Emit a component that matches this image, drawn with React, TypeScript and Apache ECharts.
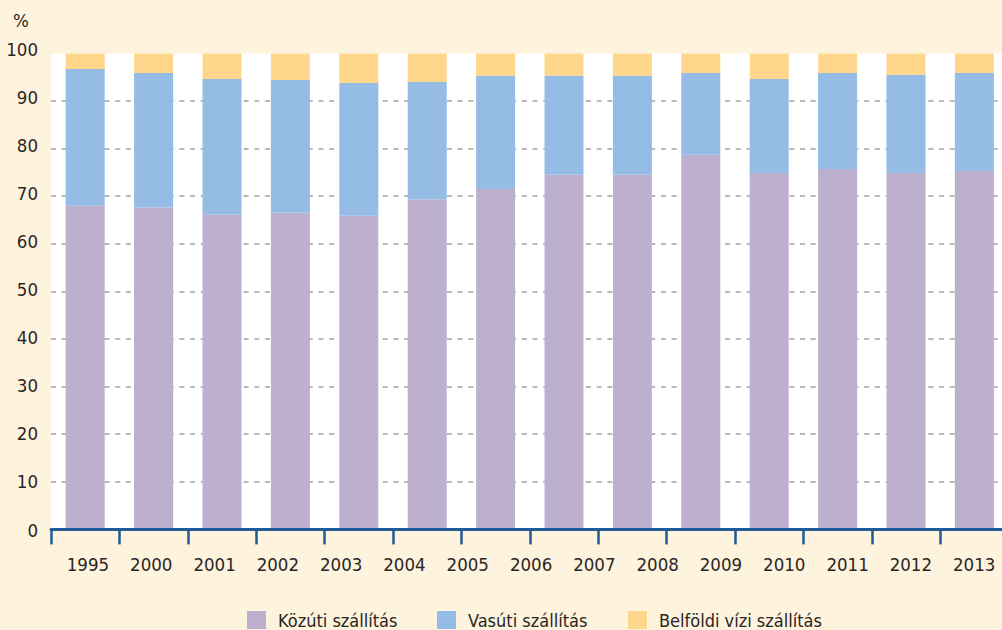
import React, { useEffect, useRef } from "react";
import * as echarts from "echarts";

const years = ["1995", "2000", "2001", "2002", "2003", "2004", "2005", "2006", "2007", "2008", "2009", "2010", "2011", "2012", "2013"];
// shares in %, the last year's bar is cut off in the reference image
const roadShare = [68.0, 67.6, 66.1, 66.5, 65.9, 69.3, 71.5, 74.5, 74.5, 78.7, 74.9, 75.7, 74.9, 75.3, null];
const railShare = [28.7, 28.3, 28.5, 27.9, 27.9, 24.7, 23.8, 20.8, 20.8, 17.2, 19.7, 20.2, 20.6, 20.6, null];
const waterShare = [3.3, 4.1, 5.4, 5.6, 6.2, 6.0, 4.7, 4.7, 4.7, 4.1, 5.4, 4.1, 4.5, 4.1, null];
const seriesNames = ["Közúti szállítás", "Vasúti szállítás", "Belföldi vízi szállítás"];
const seriesColors = ["#BDAFCE", "#94BCE4", "#FED78D"];
const yMin = 0;
const yMax = 100;
const yStep = 10;

const FONT = "'DejaVu Sans Condensed', 'Liberation Sans', sans-serif";
const TEXT = "#2a2627";
const AXIS = "#1F5B99";

export default function App() {
  const ref = useRef<HTMLDivElement>(null);
  useEffect(() => {
    if (!ref.current) return;
    const chart = echarts.init(ref.current, null, { renderer: "svg" });
    const data = [roadShare, railShare, waterShare];
    chart.setOption({
      animation: false,
      backgroundColor: "#FEF3DC",
      textStyle: { fontFamily: FONT },
      graphic: [
        {
          type: "text",
          left: 13,
          top: 11,
          style: { text: "%", fontSize: 18.5, fontFamily: FONT, fill: TEXT },
        },
      ],
      legend: seriesNames.map((n, i) => ({
        data: [n],
        left: [242, 432, 623][i],
        top: 606,
        itemWidth: 19,
        itemHeight: 18,
        icon: "rect",
        selectedMode: false,
        textStyle: { fontSize: 18, fontFamily: FONT, color: TEXT, padding: [0, 0, 0, 7] },
      })),
      grid: [
        {
          left: 51,
          top: 53.4,
          width: 1026,
          height: 476,
          show: true,
          backgroundColor: "#FFFFFF",
          borderWidth: 0,
          outerBoundsMode: "none",
          containLabel: false,
        },
        {
          left: 56.3,
          top: 49,
          width: 949.5,
          height: 481,
          show: false,
          outerBoundsMode: "none",
          containLabel: false,
        },
      ],
      xAxis: [
        {
          type: "category",
          gridIndex: 0,
          data: years,
          axisLine: { show: true, lineStyle: { color: AXIS, width: 3 } },
          axisTick: { show: true, length: 15, lineStyle: { color: AXIS, width: 2.5 } },
          axisLabel: { show: false },
          splitLine: { show: false },
          z: 5,
        },
        {
          type: "category",
          gridIndex: 1,
          data: years,
          axisLine: { show: false },
          axisTick: { show: false },
          axisLabel: { show: true, fontSize: 18.5, fontFamily: FONT, color: TEXT, margin: 25 },
          splitLine: { show: false },
        },
      ],
      yAxis: [
        {
          type: "value",
          gridIndex: 0,
          min: yMin,
          max: yMax,
          interval: yStep,
          axisLine: { show: false },
          axisTick: { show: false },
          axisLabel: { show: false },
          splitLine: {
            show: true,
            showMinLine: false,
            showMaxLine: false,
            lineStyle: { color: "#A2A2A2", width: 1.5, type: [5, 5.7] },
          },
        },
        {
          type: "value",
          gridIndex: 1,
          min: yMin,
          max: yMax,
          interval: yStep,
          axisLine: { show: false },
          axisTick: { show: false },
          axisLabel: { show: true, fontSize: 18.5, fontFamily: FONT, color: TEXT, margin: 18.3 },
          splitLine: { show: false },
        },
      ],
      series: seriesNames.map((n, i) => ({
        name: n,
        type: "bar",
        stack: "total",
        xAxisIndex: 0,
        yAxisIndex: 0,
        barWidth: 39,
        itemStyle: { color: seriesColors[i] },
        data: data[i],
      })),
    });
    return () => chart.dispose();
  }, []);
  return (
    <div
      ref={ref}
      style={{ position: "fixed", left: 0, top: 0, width: 1002, height: 630 }}
    />
  );
}
